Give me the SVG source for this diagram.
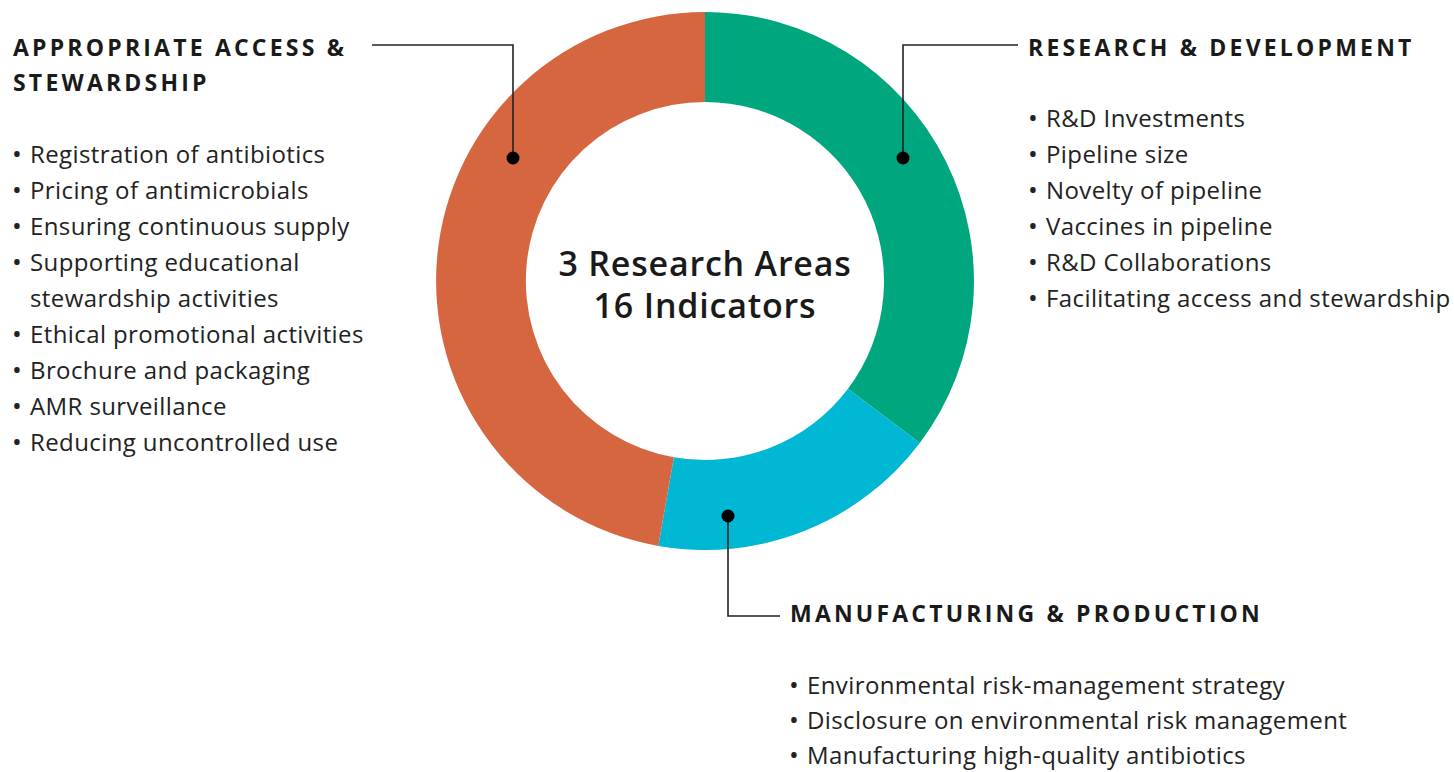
<svg xmlns="http://www.w3.org/2000/svg" width="1454" height="772" viewBox="0 0 1454 772">
<style>
.h{font-family:"Open Sans",sans-serif;font-weight:700;font-size:23px;letter-spacing:3.2px;fill:#1a1a1a}
.b{font-family:"Open Sans",sans-serif;font-size:24px;letter-spacing:0.4px;fill:#222}
.bl{font-size:26px}
.c{font-family:"Open Sans",sans-serif;font-weight:600;font-size:34px;letter-spacing:0.8px;fill:#1a1a1a;text-anchor:middle}
.ld{fill:none;stroke:#222;stroke-width:1.6}
.dot{fill:#000}
</style>
<rect width="1454" height="772" fill="#fff"/>
<g id="donut">
<path id="seg-rd" fill="#00A67E" d="M705,12 A269,269 0 0 1 919.8,442.9 L848,388.7 A179,179 0 0 0 705,102 Z"/>
<path id="seg-mp" fill="#00B7D4" d="M919.8,442.9 A269,269 0 0 1 658.3,545.9 L673.9,457.3 A179,179 0 0 0 848,388.7 Z"/>
<path id="seg-aas" fill="#D6663F" d="M658.3,545.9 A269,269 0 0 1 705,12 L705,102 A179,179 0 0 0 673.9,457.3 Z"/>
</g>
<g id="center">
<text class="c" x="705" y="276">3 Research Areas</text>
<text class="c" x="705" y="318">16 Indicators</text>
</g>
<g id="connectors">
<polyline class="ld" points="372,45 513,45 513,158"/>
<polyline class="ld" points="1018,45 903,45 903,158"/>
<polyline class="ld" points="728,516 728,616 780,616"/>
<circle class="dot" cx="513" cy="158" r="6.5"/>
<circle class="dot" cx="903" cy="158" r="6.5"/>
<circle class="dot" cx="728" cy="516" r="6.5"/>
</g>
<g id="access">
<text class="h" x="13" y="56">APPROPRIATE ACCESS &amp;</text>
<text class="h" x="13" y="91">STEWARDSHIP</text>
<g class="b">
<text x="12" y="163"><tspan class="bl">•</tspan><tspan x="30">Registration of antibiotics</tspan></text>
<text x="12" y="199"><tspan class="bl">•</tspan><tspan x="30">Pricing of antimicrobials</tspan></text>
<text x="12" y="235"><tspan class="bl">•</tspan><tspan x="30">Ensuring continuous supply</tspan></text>
<text x="12" y="271"><tspan class="bl">•</tspan><tspan x="30">Supporting educational</tspan></text>
<text x="30" y="307">stewardship activities</text>
<text x="12" y="343"><tspan class="bl">•</tspan><tspan x="30">Ethical promotional activities</tspan></text>
<text x="12" y="379"><tspan class="bl">•</tspan><tspan x="30">Brochure and packaging</tspan></text>
<text x="12" y="415"><tspan class="bl">•</tspan><tspan x="30">AMR surveillance</tspan></text>
<text x="12" y="451"><tspan class="bl">•</tspan><tspan x="30">Reducing uncontrolled use</tspan></text>
</g>
</g>
<g id="research">
<text class="h" x="1028" y="56">RESEARCH &amp; DEVELOPMENT</text>
<g class="b">
<text x="1028" y="127"><tspan class="bl">•</tspan><tspan x="1046">R&amp;D Investments</tspan></text>
<text x="1028" y="163"><tspan class="bl">•</tspan><tspan x="1046">Pipeline size</tspan></text>
<text x="1028" y="199"><tspan class="bl">•</tspan><tspan x="1046">Novelty of pipeline</tspan></text>
<text x="1028" y="235"><tspan class="bl">•</tspan><tspan x="1046">Vaccines in pipeline</tspan></text>
<text x="1028" y="271"><tspan class="bl">•</tspan><tspan x="1046">R&amp;D Collaborations</tspan></text>
<text x="1028" y="307"><tspan class="bl">•</tspan><tspan x="1046">Facilitating access and stewardship</tspan></text>
</g>
</g>
<g id="manufacturing">
<text class="h" x="790" y="622">MANUFACTURING &amp; PRODUCTION</text>
<g class="b">
<text x="789" y="694"><tspan class="bl">•</tspan><tspan x="807">Environmental risk-management strategy</tspan></text>
<text x="789" y="729"><tspan class="bl">•</tspan><tspan x="807">Disclosure on environmental risk management</tspan></text>
<text x="789" y="764"><tspan class="bl">•</tspan><tspan x="807">Manufacturing high-quality antibiotics</tspan></text>
</g>
</g>
</svg>
